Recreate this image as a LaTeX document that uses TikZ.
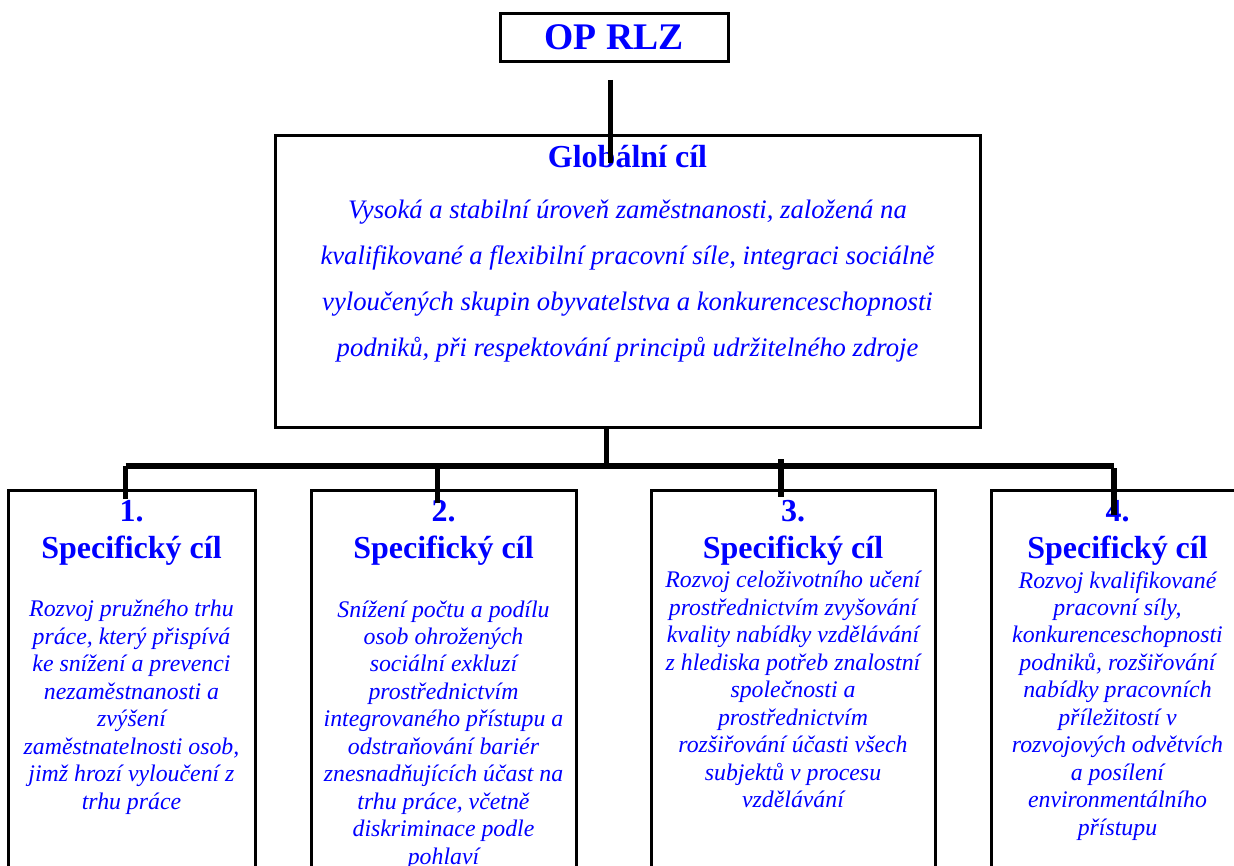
\documentclass[tikz,border=0pt]{standalone}
\usepackage{fontspec}
\setmainfont{Liberation Serif}
\usepackage{xcolor}
\usetikzlibrary{positioning}
\definecolor{goalblue}{RGB}{0,0,255}

\tikzset{
  goalframe/.style={draw, line width=2.25pt, inner sep=0pt},
  link/.style={line width=4pt},
  headtext/.style={anchor=base, inner sep=0pt, align=center, text=goalblue, font=\fontsize{24}{27.2}\selectfont\bfseries},
  bodytext/.style={anchor=base, inner sep=0pt, align=center, text=goalblue, font=\fontsize{17.85}{20.6}\selectfont\itshape},
}

\begin{document}
\begin{tikzpicture}[x=0.75pt,y=0.75pt,yscale=-1,xscale=1]
\useasboundingbox (0,0) rectangle (1234,866);
\clip (0,0) rectangle (1234,866);

%Shape: Rectangle
\node [goalframe, minimum width=171pt, minimum height=35.6pt, text=goalblue, font=\fontsize{28.2}{30}\selectfont\bfseries] (op) at (614,37.5) {OP RLZ};
%Shape: Rectangle
\node [goalframe, minimum width=528.75pt, minimum height=218.25pt] (glob) at (627.5,281.5) {};
%Shape: Rectangle
\node [goalframe, minimum width=185.25pt, minimum height=315pt] (s1) at (131.5,700) {};
\node [goalframe, minimum width=198.75pt, minimum height=315pt] (s2) at (443.5,700) {};
\node [goalframe, minimum width=213pt, minimum height=315pt] (s3) at (793,700) {};
\node [goalframe, minimum width=189.75pt, minimum height=315pt] (s4) at (1117.5,700) {};

% Text Node (base = last line)
\node [headtext] (globtitle) at (627.5,167.7) {Globální cíl};
% Text Node
\node [bodytext, font=\fontsize{20}{34.5}\selectfont\itshape] (globbody) at (627.5,356) {Vysoká a stabilní úroveň zaměstnanosti, založená na\\
kvalifikované a flexibilní pracovní síle, integraci sociálně\\
vyloučených skupin obyvatelstva a konkurenceschopnosti\\
podniků, při respektování principů udržitelného zdroje};

% Text Node
\node [headtext] (s1head) at (131.5,558) {1.\\Specifický cíl};
\node [bodytext] (s1body) at (131.5,809.2) {Rozvoj pružného trhu\\
práce, který přispívá\\
ke snížení a prevenci\\
nezaměstnanosti a\\
zvýšení\\
zaměstnatelnosti osob,\\
jimž hrozí vyloučení z\\
trhu práce};
% Text Node
\node [headtext] (s2head) at (443.5,558) {2.\\Specifický cíl};
\node [bodytext] (s2body) at (443.5,864.2) {Snížení počtu a podílu\\
osob ohrožených\\
sociální exkluzí\\
prostřednictvím\\
integrovaného přístupu a\\
odstraňování bariér\\
znesnadňujících účast na\\
trhu práce, včetně\\
diskriminace podle\\
pohlaví};
% Text Node
\node [headtext] (s3head) at (793,558) {3.\\Specifický cíl};
\node [bodytext] (s3body) at (793,807.7) {Rozvoj celoživotního učení\\
prostřednictvím zvyšování\\
kvality nabídky vzdělávání\\
z hlediska potřeb znalostní\\
společnosti a\\
prostřednictvím\\
rozšiřování účasti všech\\
subjektů v procesu\\
vzdělávání};
% Text Node
\node [headtext] (s4head) at (1117.5,558) {4.\\Specifický cíl};
\node [bodytext] (s4body) at (1117.5,835.2) {Rozvoj kvalifikované\\
pracovní síly,\\
konkurenceschopnosti\\
podniků, rozšiřování\\
nabídky pracovních\\
příležitostí v\\
rozvojových odvětvích\\
a posílení\\
environmentálního\\
přístupu};

%Straight Lines
\coordinate (optail) at (610.5,80);
\coordinate (globhead) at (610.5,163);
\coordinate (globtail) at (606.5,427);
\coordinate (hub) at (606.5,465);
\coordinate (bar1) at (125.5,464);
\coordinate (bar2) at (437.5,464.5);
\coordinate (bar3) at (781,459);
\coordinate (bar4) at (1114,466);
\coordinate (s1in) at (125.5,499);
\coordinate (s2in) at (437.5,503);
\coordinate (s3in) at (781,497);
\coordinate (s4in) at (1114,515);

\draw [link] (optail) -- (globhead);
\draw [link] (globtail) -- (hub);
\draw [link] ([yshift=1.5pt]bar1) -- (bar4);
\draw [link] ([yshift=1.5pt]bar1) -- (s1in);
\draw [link] (bar2) -- (s2in);
\draw [link] (bar3) -- (s3in);
\draw [link] ([yshift=1.5pt]bar4) -- (s4in);

\end{tikzpicture}
\end{document}
